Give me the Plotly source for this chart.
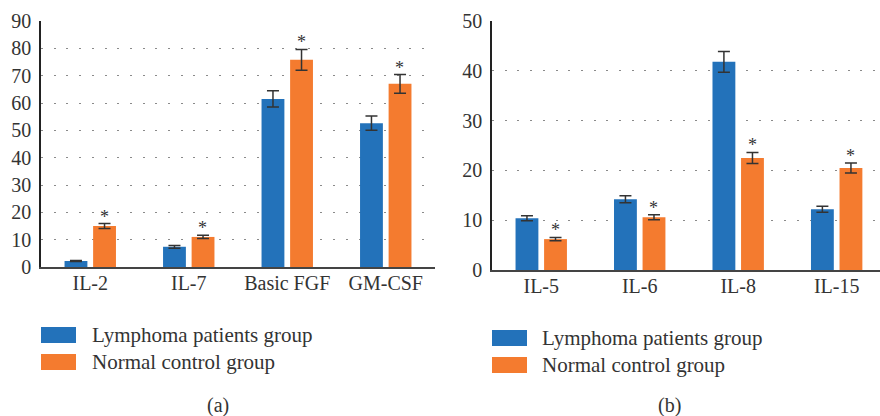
import plotly.graph_objects as go

# ---- data ----
cats_a = ["IL-2", "IL-7", "Basic FGF", "GM-CSF"]
lymph_a = [2.2, 7.4, 61.5, 52.6]
lymph_a_err = [0.2, 0.5, 3.0, 2.6]
normal_a = [15.0, 11.0, 75.8, 67.0]
normal_a_err = [0.9, 0.6, 3.8, 3.4]

cats_b = ["IL-5", "IL-6", "IL-8", "IL-15"]
lymph_b = [10.4, 14.2, 41.8, 12.2]
lymph_b_err = [0.5, 0.7, 2.1, 0.6]
normal_b = [6.2, 10.6, 22.5, 20.5]
normal_b_err = [0.35, 0.5, 1.1, 1.0]

series_names = ["Lymphoma patients group", "Normal control group"]
panel_labels = ["(a)", "(b)"]
yticks_a = [0, 10, 20, 30, 40, 50, 60, 70, 80, 90]
yticks_b = [0, 10, 20, 30, 40, 50]

BLUE = "#2372BA"
ORANGE = "#F47B2F"
TXT = "#333333"
FONT = "'Liberation Serif', 'Times New Roman', 'DejaVu Serif', serif"
W, H = 880, 416

def px(x):
    return x / W

def py(y):
    return 1 - y / H

fig = go.Figure()
err_style = dict(type="data", color="#333333", thickness=1.5, width=6)

fig.add_trace(go.Bar(x=cats_a, y=lymph_a, marker_color=BLUE, name=series_names[0],
                     error_y=dict(array=lymph_a_err, **err_style), xaxis="x", yaxis="y", showlegend=False))
fig.add_trace(go.Bar(x=cats_a, y=normal_a, marker_color=ORANGE, name=series_names[1],
                     error_y=dict(array=normal_a_err, **err_style), xaxis="x", yaxis="y", showlegend=False))
fig.add_trace(go.Bar(x=cats_b, y=lymph_b, marker_color=BLUE, name=series_names[0],
                     error_y=dict(array=lymph_b_err, **err_style), xaxis="x2", yaxis="y2", showlegend=False))
fig.add_trace(go.Bar(x=cats_b, y=normal_b, marker_color=ORANGE, name=series_names[1],
                     error_y=dict(array=normal_b_err, **err_style), xaxis="x2", yaxis="y2", showlegend=False))

annotations = []
# significance stars above the normal control bars
for cats, vals, errs, xr, yr in [(cats_a, normal_a, normal_a_err, "x", "y"),
                                 (cats_b, normal_b, normal_b_err, "x2", "y2")]:
    for c, v, e in zip(cats, vals, errs):
        annotations.append(dict(x=c, y=v + e, xref=xr, yref=yr, text="*", showarrow=False,
                                xshift=14, yshift=-5, yanchor="bottom",
                                font=dict(family=FONT, size=18, color=TXT)))

shapes = []
# manual legends
legend_spec = [
    (41, 76, [(327, 343), (354, 370)], 90),
    (492, 527, [(330, 346), (357, 373)], 540),
]
for x0, x1, rows, tx in legend_spec:
    for (y0, y1), col, name in zip(rows, [BLUE, ORANGE], series_names):
        shapes.append(dict(type="rect", xref="paper", yref="paper",
                           x0=px(x0), x1=px(x1), y0=py(y1), y1=py(y0),
                           fillcolor=col, line=dict(width=0)))
        annotations.append(dict(x=px(tx), y=py((y0 + y1) / 2), xref="paper", yref="paper",
                                text=name, showarrow=False, xanchor="left", yanchor="middle",
                                font=dict(family=FONT, size=21, color=TXT)))

for lab, cx in zip(panel_labels, [218, 669]):
    annotations.append(dict(x=px(cx), y=py(405), xref="paper", yref="paper", text=lab,
                            showarrow=False, xanchor="center", yanchor="middle",
                            font=dict(family=FONT, size=20, color=TXT)))

grid = dict(showgrid=True, gridcolor="#8a8a8a", gridwidth=1.2, griddash="2px,10.7px")
yax_common = dict(showline=True, linecolor="#222222", linewidth=1.5, ticks="",
                  zeroline=False, automargin=False,
                  tickfont=dict(family=FONT, size=20, color=TXT),
                  ticklabelstandoff=4, **grid)
xax_common = dict(type="category", showline=True, linecolor="#444444", linewidth=2,
                  ticks="", showgrid=False, zeroline=False, automargin=False,
                  tickfont=dict(family=FONT, size=20, color=TXT), ticklabelstandoff=-3)

fig.update_layout(
    template="none",
    width=W, height=H,
    margin=dict(l=0, r=0, t=0, b=0, pad=0),
    paper_bgcolor="white", plot_bgcolor="white",
    barmode="group", bargap=0.42, bargroupgap=0.2,
    showlegend=False,
    xaxis=dict(domain=[px(41), px(435)], range=[-0.5, 3.5], anchor="y", **xax_common),
    yaxis=dict(domain=[py(267), py(21)], range=[0, 90], tickvals=yticks_a, anchor="x", **yax_common),
    xaxis2=dict(domain=[px(492), 1.0], range=[-0.5, 3.44], anchor="y2", **xax_common),
    yaxis2=dict(domain=[py(270), py(21)], range=[0, 50], tickvals=yticks_b, anchor="x2", **yax_common),
    annotations=annotations,
    shapes=shapes,
    font=dict(family=FONT, color=TXT),
)

fig.write_html("out.html", config={"displayModeBar": False},
               post_script="document.body.style.margin='0';document.body.style.overflow='hidden';")
